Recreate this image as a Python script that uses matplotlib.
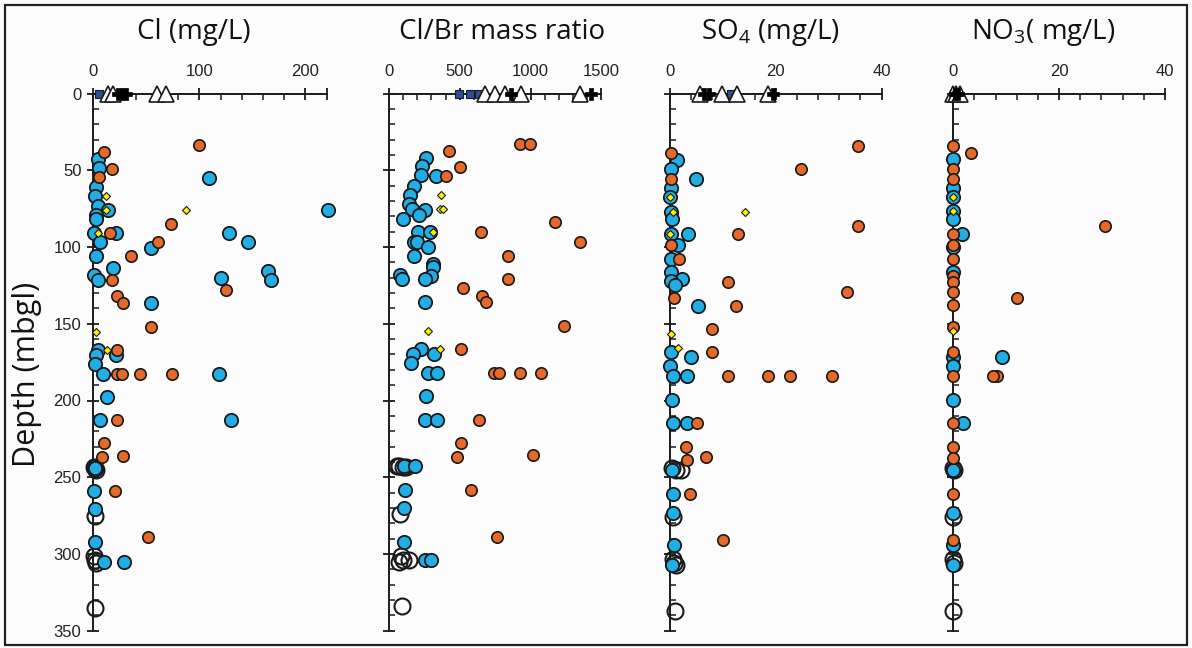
import matplotlib
matplotlib.use("Agg")
import matplotlib.pyplot as plt
from matplotlib.patches import Rectangle
from matplotlib.ticker import FixedLocator
import numpy as np

plt.rcParams['mathtext.fontset'] = 'custom'
plt.rcParams['mathtext.rm'] = 'Open Sans'

# ---- Cl (mg/L) ----
cl_blue_depth = [42.6, 48.5, 54.8, 61, 67, 73, 76, 76, 79, 82, 91, 91, 91, 97, 97, 100.5, 106, 114,
                 115.5, 118.5, 120, 121.5, 121.5, 136.7, 167, 170.5, 170.5, 176, 182.5, 182.5, 198,
                 213, 213, 244, 259, 271, 292.5, 305, 305]
cl_blue_val = [4, 5.5, 109, 3, 2, 4.5, 14, 221, 3, 3, 1, 21, 128, 6, 146, 54, 3, 19,
               165, 1, 120.5, 4, 168, 54, 4, 3, 21, 2, 9, 118.5, 13,
               6.5, 130, 2, 1, 2, 2, 10, 29]
cl_orange_depth = [33.4, 38, 49, 54.6, 85, 91, 97, 106, 121.5, 127.7, 132, 136.7, 152, 167,
                   182.5, 182.5, 182.5, 182.5, 213, 228, 236, 237, 259, 289]
cl_orange_val = [100, 9.7, 18, 5, 73, 16, 61, 36, 18, 125.5, 22, 28, 54, 22,
                 22, 27, 44.5, 74, 22.5, 10, 28, 8, 20, 52]
cl_yellow_depth = [67, 76, 76, 91, 155.5, 167]
cl_yellow_val = [12, 12, 87, 4, 3, 13]
cl_open_depth = [243, 244, 245, 275, 301, 304, 306, 335]
cl_open_val = [1, 2, 3, 2, 1, 2, 3, 2]
cl_top_square = [5]
cl_top_triangle = [14, 19, 60, 69]
cl_top_plus = [23, 27, 31]

# ---- Cl/Br mass ratio ----
clbr_blue_depth = [41.8, 47.4, 53.4, 54, 60, 66, 72, 75, 75.6, 79, 81.5, 90.5, 90.5, 96.6, 96.6,
                   100, 106, 111, 113, 118, 119, 121, 121, 136, 166.5, 170, 170, 175.7, 182, 182,
                   197, 212.7, 212.7, 242.5, 242.5, 258, 270, 292, 304, 304]
clbr_blue_val = [264, 236, 229, 329, 179, 150, 143, 164, 257, 214, 100, 207, 293, 179, 200,
                 279, 179, 310, 314, 79, 300, 93, 257, 257, 229, 171, 321, 157, 279, 336,
                 264, 257, 336, 107, 186, 114, 107, 107, 257, 300]
clbr_orange_depth = [32.8, 32.8, 37.3, 47.7, 54, 84, 90.5, 96.6, 106, 121, 127, 132, 136, 151.5,
                     166.5, 182, 182, 182, 182, 212.7, 227.6, 236.8, 235.4, 258, 289]
clbr_orange_val = [929, 993, 421, 500, 400, 1171, 650, 1350, 843, 843, 521, 657, 686, 1236,
                   507, 743, 779, 929, 1071, 636, 507, 479, 1021, 579, 764]
clbr_yellow_depth = [66, 75, 75, 90.5, 155, 166.5]
clbr_yellow_val = [371, 357, 379, 314, 279, 357]
clbr_open_depth = [242.5, 242.5, 243, 243.5, 274, 301.6, 304, 304, 305, 334]
clbr_open_val = [57, 71, 100, 121, 79, 85, 100, 143, 71, 93]
clbr_top_square = [493, 571, 636]
clbr_top_triangle = [680, 750, 820, 936, 1350]
clbr_top_plus = [865, 1430]

# ---- SO4 (mg/L) ----
so4_blue_depth = [43, 49, 55.5, 61.5, 67.6, 77, 82, 91.8, 91.8, 98.4, 107.5, 116.4, 121, 122, 125,
                  138.5, 168.5, 171.6, 177.6, 184, 184, 199.7, 214.6, 214.6, 245, 261, 273, 294, 307]
so4_blue_val = [1.3, 0.2, 4.9, 0.2, 0, 0.2, 0.4, 0.2, 3.4, 1.5, 0.2, 0.2, 2.3, 0.2, 0.9,
                5.2, 0.2, 4, 0, 0.6, 3.2, 0.4, 0.6, 3.2, 0.4, 0.6, 0.6, 0.8, 0.4]
so4_orange_depth = [34, 38.7, 49, 55.5, 86.5, 91.8, 98.4, 107.5, 123, 129, 133.4, 138.5, 153.5,
                    168.5, 184, 184, 184, 184, 214.6, 230, 237, 239, 261, 291]
so4_orange_val = [35.5, 0.2, 24.7, 0.2, 35.5, 12.8, 0.2, 1.7, 11, 33.4, 0.8, 12.4, 8,
                  8, 10.9, 18.5, 22.6, 30.6, 5.1, 3, 6.8, 3.2, 3.8, 10]
so4_yellow_depth = [67.6, 77, 77, 91.8, 156.8, 166]
so4_yellow_val = [0, 0.6, 14.2, 0, 0.2, 1.5]
so4_open_depth = [244, 245, 245.5, 276, 303, 306, 307, 337]
so4_open_val = [0.4, 1.2, 2.0, 0.6, 0.5, 0.8, 1.2, 1]
so4_top_square = [11.5]
so4_top_triangle = [5.7, 9.8, 12.6, 18.5]
so4_top_plus = [6.4, 7.4, 19.4]

# ---- NO3 (mg/L) ----
no3_blue_depth = [42.8, 61.5, 67.6, 76.7, 82, 91.8, 100, 116, 171.6, 171.6, 177.6, 199.7, 214.6,
                  245, 273, 294, 307]
no3_blue_val = [0, 0, 0, 0, 0, 1.7, 0, 0, 0, 9.2, 0, 0, 1.8,
                0, 0, 0, 0]
no3_orange_depth = [34, 38.5, 49, 55.5, 86, 91.8, 98.7, 107.5, 119, 123, 129, 133.4, 137.8, 152,
                    168.5, 184, 184, 184, 214.6, 230, 237.5, 261, 291]
no3_orange_val = [0, 3.4, 0, 0, 28.7, 0, 0, 0, 0, 0, 0, 12, 0, 0,
                  0, 0, 8.3, 7.5, 0, 0, 0, 0, 0]
no3_yellow_depth = [67.6, 76.7, 155]
no3_yellow_val = [0, 0, 0]
no3_open_depth = [244, 245, 276, 303, 306, 337]
no3_open_val = [0, 0.2, 0, 0, 0.1, 0]
no3_top_square = []
no3_top_triangle = [0, 0.6, 1.2]
no3_top_plus = [0.3, 0.9]

titles = ['Cl (mg/L)', 'Cl/Br mass ratio', r'SO$_{4}$ (mg/L)', r'NO$_{3}$( mg/L)']
x_max = [220, 1500, 40, 40]
x_major = [[0, 100, 200, 220], [0, 500, 1000, 1500], [0, 20, 40], [0, 20, 40]]
x_labels = [['0', '100', '200', ''], ['0', '500', '1000', '1500'], ['0', '20', '40'], ['0', '20', '40']]
x_minor = [20, 100, 4, 4]
depth_max = 350

BLUE = '#21ADE5'
ORANGE = '#E6692A'
YELLOW = '#FFF200'
NAVY = '#2F4C9E'
INK = '#1a1a1a'

W, H = 1192, 648
fig = plt.figure(figsize=(W / 100, H / 100), dpi=100)
fig.patch.set_facecolor('#fdfcfd')

y0_px, y_scale = 93.5, 1.535
top_px, bot_px = 78, 642
# (x of zero in px, px per unit, axes left px, axes right px, title centre px)
layout = [(93.3, 1.06, 75, 345, 194),
          (389, 0.1415, 372, 625, 502),
          (670, 5.29, 652, 905, 770),
          (953.3, 5.29, 935, 1180, 1043)]

data = [
    (cl_blue_depth, cl_blue_val, cl_orange_depth, cl_orange_val, cl_yellow_depth, cl_yellow_val,
     cl_open_depth, cl_open_val, cl_top_square, cl_top_triangle, cl_top_plus),
    (clbr_blue_depth, clbr_blue_val, clbr_orange_depth, clbr_orange_val, clbr_yellow_depth,
     clbr_yellow_val, clbr_open_depth, clbr_open_val, clbr_top_square, clbr_top_triangle, clbr_top_plus),
    (so4_blue_depth, so4_blue_val, so4_orange_depth, so4_orange_val, so4_yellow_depth, so4_yellow_val,
     so4_open_depth, so4_open_val, so4_top_square, so4_top_triangle, so4_top_plus),
    (no3_blue_depth, no3_blue_val, no3_orange_depth, no3_orange_val, no3_yellow_depth, no3_yellow_val,
     no3_open_depth, no3_open_val, no3_top_square, no3_top_triangle, no3_top_plus),
]

for i, (x0, s, lpx, rpx, tx) in enumerate(layout):
    ax = fig.add_axes([lpx / W, 1 - bot_px / H, (rpx - lpx) / W, (bot_px - top_px) / H])
    ax.set_facecolor('none')
    ax.set_xlim((lpx - x0) / s, (rpx - x0) / s)
    ax.set_ylim((bot_px - y0_px) / y_scale, (top_px - y0_px) / y_scale)

    bd, bv, od, ov, yd, yv, opd, opv, tsq, ttri, tplus = data[i]
    ax.plot(opv, opd, 'o', ms=11.5, mfc='none', mec=INK, mew=1.5, zorder=3, clip_on=False)
    ax.plot(bv, bd, 'o', ms=9.6, mfc=BLUE, mec=INK, mew=1.3, zorder=4, clip_on=False)
    ax.plot(ov, od, 'o', ms=8.2, mfc=ORANGE, mec=INK, mew=1.2, zorder=5, clip_on=False)
    ax.plot(yv, yd, 'D', ms=4.2, mfc=YELLOW, mec=INK, mew=0.8, zorder=6, clip_on=False)
    ax.plot(tsq, [0] * len(tsq), 's', ms=5.5, mfc=NAVY, mec=INK, mew=0.8, zorder=7, clip_on=False)
    ax.plot(ttri, [0] * len(ttri), '^', ms=11, mfc='white', mec=INK, mew=1.2, zorder=8, clip_on=False)
    ax.plot(tplus, [0] * len(tplus), 'P', ms=8, mfc='black', mec='black', mew=0.5, zorder=9, clip_on=False)

    for side in ['right', 'bottom']:
        ax.spines[side].set_visible(False)
    ax.spines['left'].set_position(('data', 0))
    ax.spines['top'].set_position(('data', 0))
    ax.spines['left'].set_bounds(0, depth_max)
    ax.spines['top'].set_bounds(0, x_max[i])
    for side in ['left', 'top']:
        ax.spines[side].set_linewidth(1.4)
        ax.spines[side].set_color(INK)
        ax.spines[side].set_zorder(2)

    ax.xaxis.tick_top()
    ax.xaxis.set_major_locator(FixedLocator(x_major[i]))
    ax.set_xticklabels(x_labels[i])
    ax.xaxis.set_minor_locator(FixedLocator(np.arange(0, x_max[i] + 1e-9, x_minor[i])))
    ax.yaxis.set_major_locator(FixedLocator(np.arange(0, depth_max + 1, 50)))
    ax.yaxis.set_minor_locator(FixedLocator(np.arange(0, depth_max + 1, 10)))
    ax.tick_params(which='major', direction='inout', length=9, width=1.3, color=INK,
                   labelsize=12, labelcolor='#222222')
    ax.tick_params(which='minor', direction='in', length=4, width=1.1, color=INK)
    ax.tick_params(axis='x', which='major', pad=6)
    ax.tick_params(axis='y', which='major', pad=4, labelleft=(i == 0))
    for lab in ax.get_xticklabels() + ax.get_yticklabels():
        lab.set_fontfamily('Liberation Sans')

    fig.text(tx / W, 1 - 32 / H, titles[i], ha='center', va='center', fontsize=20,
             family='Open Sans', color='#111111')

fig.text(27 / W, 1 - 374 / H, 'Depth (mbgl)', rotation=90, ha='center', va='center',
         fontsize=22, family='Open Sans', color='#111111')

fig.add_artist(Rectangle((5 / W, 1 - 645 / H), 1182 / W, 640 / H, transform=fig.transFigure,
                         fill=False, lw=1.6, ec='#222222'))

fig.savefig('out.png', dpi=100, facecolor=fig.get_facecolor())
